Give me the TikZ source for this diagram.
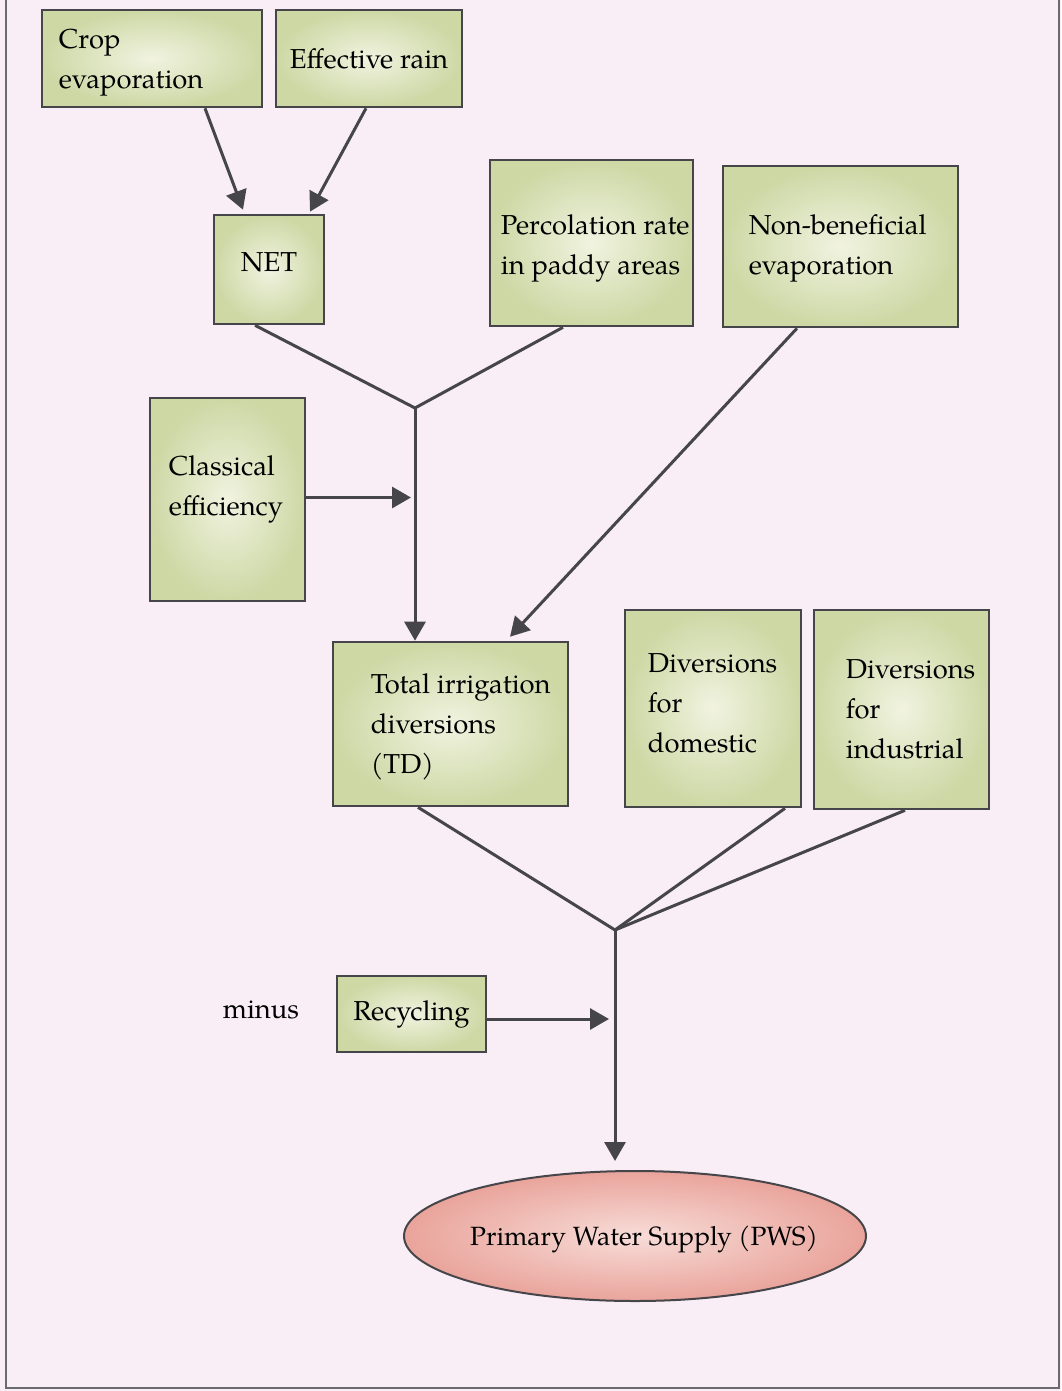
\documentclass[tikz,border=0pt]{standalone}
\usepackage{fontspec}
\setmainfont{TeX Gyre Pagella}
\usetikzlibrary{arrows.meta,shapes.geometric}

\definecolor{paper}{HTML}{F9EEF6}
\definecolor{lin}{HTML}{46464A}
\definecolor{boxin}{HTML}{F1F3E0}
\definecolor{boxout}{HTML}{CDD8A5}
\definecolor{pwsin}{HTML}{F8DCD8}
\definecolor{pwsout}{HTML}{E9A49B}

\begin{document}
\begin{tikzpicture}[x=1pt,y=-1pt,
  box/.style={draw=lin,line width=2.6pt,inner color=boxin,outer color=boxout,
    inner sep=0pt,align=left,font=\fontsize{27.4}{40}\selectfont},
  txt/.style={inner sep=0pt,anchor=west,align=left,font=\fontsize{27.4}{40}\selectfont},
  line/.style={draw=lin,line width=3pt},
  arr/.style={line,-{Triangle[length=19pt,width=21pt]}}]
\useasboundingbox (0,0) rectangle (1061,1391);
\fill[paper] (0,0) rectangle (1061,1391);
\draw[lin!80,line width=2pt] (6,0) -- (6,1388) -- (1059,1388) -- (1059,0);

% inputs
\node[box,minimum width=220pt,minimum height=97pt] (crop) at (152,58.5) {};
\node[txt] (cropt) at ([xshift=18pt,yshift=-4pt]crop.west) {Crop\\evaporation};
\node[box,minimum width=186pt,minimum height=97pt] (rain) at (369,58.5) {Effective rain};
\node[box,minimum width=110pt,minimum height=109pt] (net) at (269,269.5) {};
\node[txt,anchor=center] (nett) at ([yshift=7pt]net.center) {NET};
\node[box,minimum width=203pt,minimum height=166pt] (perc) at (591.5,243) {};
\node[txt] (perct) at ([xshift=12pt,yshift=-5pt]perc.west) {Percolation rate\\in paddy areas};
\node[box,minimum width=235pt,minimum height=161pt] (nonb) at (840.5,246.5) {};
\node[txt] (nonbt) at ([xshift=27pt,yshift=-2pt]nonb.west) {Non-beneficial\\evaporation};
\node[box,minimum width=155pt,minimum height=203pt] (clas) at (227.5,499.5) {};
\node[txt] (clast) at ([xshift=20pt,yshift=10pt]clas.west) {Classical\\efficiency};

% diversions
\node[box,minimum width=235pt,minimum height=164pt] (td) at (450.5,724) {};
\node[txt] (tdt) at ([xshift=39pt,yshift=-3pt]td.west) {Total irrigation\\diversions\\(TD)};
\node[box,minimum width=176pt,minimum height=197pt] (dom) at (713,708.5) {};
\node[txt] (domt) at ([xshift=24pt,yshift=5pt]dom.west) {Diversions\\for\\domestic};
\node[box,minimum width=175pt,minimum height=199pt] (ind) at (901.5,709.5) {};
\node[txt] (indt) at ([xshift=33pt]ind.west) {Diversions\\for\\industrial};

\node[box,minimum width=149pt,minimum height=76pt] (rec) at (411.5,1014) {Recycling};
\node[txt,anchor=center] (minus) at (261,1010) {minus};
\node[ellipse,draw=lin,line width=2pt,inner color=pwsin,outer color=pwsout,
  minimum width=462pt,minimum height=130pt,inner sep=0pt] (pws) at (635,1236) {};
\node[txt,anchor=center,font=\fontsize{26.4}{30}\selectfont] (pwst)
  at ([xshift=9pt,yshift=-3pt]pws.center) {Primary Water Supply (PWS)};

\coordinate (j1) at (415,408);
\coordinate (j2) at (615,930);

\draw[arr] ([xshift=53pt]crop.south) -- ([xshift=-26pt,yshift=4pt]net.north);
\draw[arr] ([xshift=-3pt]rain.south) -- ([xshift=41pt,yshift=2pt]net.north);
\draw[line] ([xshift=-14pt]net.south) -- (j1) -- ([xshift=-28.5pt]perc.south);
\draw[arr] (j1) -- ([xshift=-35.5pt]td.north);
\draw[arr,shorten >=4pt] ([yshift=2pt]clas.east) -- ([yshift=2pt]clas.east -| j1);
\draw[arr] ([xshift=-43.5pt]nonb.south) -- ([xshift=59.5pt,yshift=4pt]td.north);
\draw[line] ([xshift=-32.5pt]td.south) -- (j2) -- ([xshift=72pt]dom.south);
\draw[line] (j2) -- ([xshift=3.5pt]ind.south);
\draw[arr,shorten >=9pt] (j2) -- (j2 |- pws.north);
\draw[arr,shorten >=6pt] ([yshift=-5pt]rec.east) -- ([yshift=-5pt]rec.east -| j2);
\end{tikzpicture}
\end{document}
